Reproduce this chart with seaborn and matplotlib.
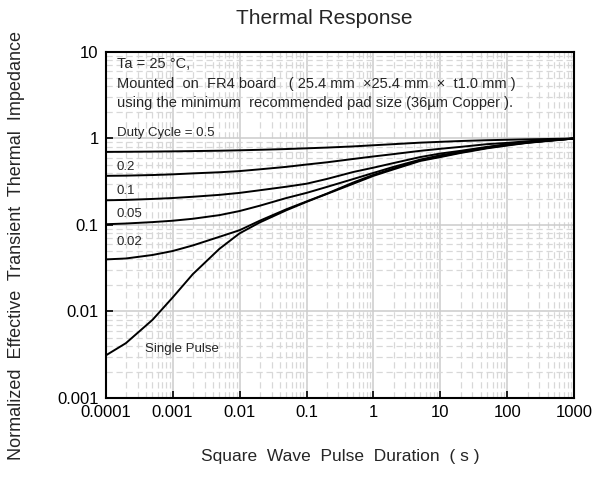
import matplotlib
matplotlib.use("Agg")
import matplotlib.pyplot as plt
import matplotlib.ticker as mticker
import seaborn as sns
import pandas as pd
import numpy as np

# ---- data ----
pulse_s = [1e-4, 2e-4, 5e-4, 1e-3, 2e-3, 5e-3, 1e-2, 2e-2, 5e-2, 0.1, 0.2, 0.5,
           1, 2, 5, 10, 20, 50, 100, 200, 500, 1000]
d_050 = [0.70, 0.702, 0.706, 0.71, 0.715, 0.722, 0.73, 0.74, 0.755, 0.77, 0.785, 0.81,
         0.835, 0.86, 0.895, 0.915, 0.935, 0.955, 0.967, 0.978, 0.99, 1.0]
d_020 = [0.37, 0.372, 0.378, 0.385, 0.395, 0.407, 0.42, 0.44, 0.47, 0.50, 0.53, 0.58,
         0.62, 0.66, 0.72, 0.76, 0.80, 0.86, 0.89, 0.93, 0.97, 1.0]
d_010 = [0.193, 0.195, 0.20, 0.205, 0.212, 0.223, 0.235, 0.252, 0.277, 0.30, 0.34, 0.41,
         0.46, 0.52, 0.61, 0.67, 0.72, 0.80, 0.86, 0.91, 0.96, 1.0]
d_005 = [0.102, 0.104, 0.108, 0.112, 0.118, 0.130, 0.145, 0.167, 0.205, 0.235, 0.275, 0.34,
         0.40, 0.47, 0.57, 0.64, 0.70, 0.79, 0.85, 0.90, 0.96, 1.0]
d_002 = [0.040, 0.041, 0.045, 0.050, 0.058, 0.073, 0.087, 0.112, 0.152, 0.187, 0.23, 0.31,
         0.38, 0.45, 0.56, 0.62, 0.69, 0.78, 0.84, 0.895, 0.955, 1.0]
single = [0.0031, 0.0043, 0.0080, 0.0145, 0.027, 0.053, 0.080, 0.107, 0.148, 0.185, 0.228, 0.30,
          0.37, 0.44, 0.55, 0.61, 0.68, 0.77, 0.83, 0.89, 0.95, 1.0]

series_names = ["0.5", "0.2", "0.1", "0.05", "0.02", "single"]
series_vals = [d_050, d_020, d_010, d_005, d_002, single]

curve_labels = ["Duty Cycle = 0.5", "0.2", "0.1", "0.05", "0.02", "Single Pulse"]
x_ticks = [1e-4, 1e-3, 1e-2, 1e-1, 1, 10, 100, 1000]
x_ticklabels = ["0.0001", "0.001", "0.01", "0.1", "1", "10", "100", "1000"]
y_ticks = [0.001, 0.01, 0.1, 1, 10]
y_ticklabels = ["0.001", "0.01", "0.1", "1", "10"]

df = pd.DataFrame({
    "t": np.tile(pulse_s, len(series_names)),
    "z": np.concatenate(series_vals),
    "series": np.repeat(series_names, len(pulse_s)),
})

sns.set_theme(style="white")
plt.rcParams["font.family"] = ["Liberation Sans", "DejaVu Sans"]

fig = plt.figure(figsize=(5.96, 4.97), dpi=100)
ax = fig.add_axes([0.1773, 0.1992, 0.7863, 0.6962])

sns.lineplot(data=df, x="t", y="z", units="series", estimator=None,
             color="black", linewidth=1.4, ax=ax, legend=False)

ax.set_xscale("log")
ax.set_yscale("log")
ax.set_xlim(1e-4, 1000)
ax.set_ylim(0.001, 10)

ax.set_xticks(x_ticks)
ax.set_xticklabels(x_ticklabels)
ax.set_yticks(y_ticks)
ax.set_yticklabels(y_ticklabels)
ax.xaxis.set_minor_locator(mticker.LogLocator(base=10, subs=np.arange(2, 10), numticks=20))
ax.yaxis.set_minor_locator(mticker.LogLocator(base=10, subs=np.arange(2, 10), numticks=20))
ax.xaxis.set_minor_formatter(mticker.NullFormatter())
ax.yaxis.set_minor_formatter(mticker.NullFormatter())

ax.grid(which="major", color="#cccccc", linestyle="-", linewidth=1.1)
ax.grid(which="minor", color="#d8d8d8", linestyle=(0, (5, 3)), linewidth=0.9)
ax.set_axisbelow(True)

ax.tick_params(which="major", direction="in", length=5, width=1.2, colors="black",
               labelsize=12, pad=5, left=True, bottom=True)
ax.tick_params(which="minor", length=0)
for sp in ax.spines.values():
    sp.set_color("black")
    sp.set_linewidth(1.5)

ax.set_xlabel("")
ax.set_ylabel("")
fig.text(340 / 596, 1 - 456 / 497, "Square  Wave  Pulse  Duration  ( s )",
         ha="center", va="center", fontsize=12.5)
fig.text(17 / 596, 1 - 246 / 497, "Normalized  Effective  Transient  Thermal  Impedance",
         rotation=90, ha="center", va="center", fontsize=13)
fig.text(324 / 596, 1 - 19 / 497, "Thermal Response", ha="center", va="center", fontsize=15)

# annotation block (axes coordinates)
ax.text(0.024, 0.965, "Ta = 25 \u00b0C,", transform=ax.transAxes, fontsize=10.5, va="center")
ax.text(0.024, 0.9075, "Mounted  on  FR4 board   ( 25.4 mm  \u00d725.4 mm  \u00d7  t1.0 mm )",
        transform=ax.transAxes, fontsize=10.5, va="center")
ax.text(0.024, 0.8526, "using the minimum  recommended pad size (36\u00b5m Copper ).",
        transform=ax.transAxes, fontsize=10.5, va="center")

label_pos = [(1.47e-4, 1.16), (1.47e-4, 0.47), (1.47e-4, 0.247), (1.47e-4, 0.134),
             (1.47e-4, 0.0635), (3.9e-4, 0.00368)]
for lab, (lx, ly) in zip(curve_labels, label_pos):
    ax.text(lx, ly, lab, fontsize=9.5, va="center", ha="left")

fig.savefig("out.png", dpi=100)
